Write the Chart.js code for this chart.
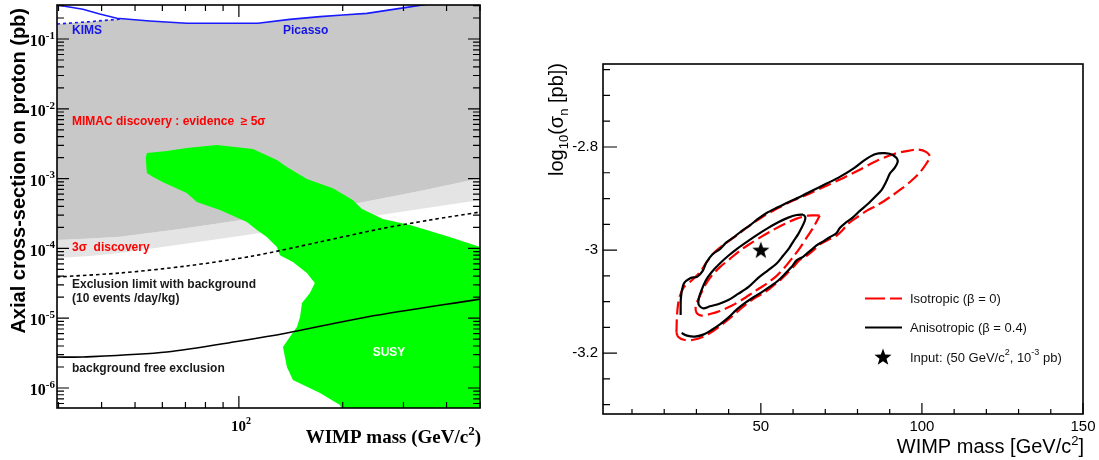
<!DOCTYPE html>
<html><head><meta charset="utf-8">
<script src="https://cdn.jsdelivr.net/npm/chart.js@4.4.1/dist/chart.umd.min.js"></script>
<style>
html,body{margin:0;padding:0;background:#fff;width:1099px;height:460px;overflow:hidden}
#c1{position:absolute;left:0;top:0}
#c2{position:absolute;left:520px;top:0}
</style></head><body>
<canvas id="c1" width="505" height="460"></canvas>
<canvas id="c2" width="579" height="460"></canvas>
<script>
// ================= LEFT PANEL DATA (WIMP mass GeV/c^2, cross-section pb) =================
const sigma3Mass = [29.7, 37, 45.2, 67.5, 100.7, 150, 224, 335, 500];
const sigma3Val  = [7.3e-5, 7.8e-5, 8.6e-5, 1.14e-4, 1.51e-4, 2.03e-4, 2.73e-4, 3.67e-4, 4.93e-4];
const sigma5Mass = [29.7, 37, 45.2, 67.5, 100.7, 150, 224, 335, 500];
const sigma5Val  = [1.32e-4, 1.39e-4, 1.47e-4, 1.90e-4, 2.53e-4, 3.38e-4, 4.52e-4, 6.64e-4, 1.01e-3];
const picassoMass = [29.7, 35.3, 39.5, 44.3, 55.2, 70.6, 113.5, 140.5, 171.9, 200, 235, 293, 341, 420];
const picassoVal  = [0.307, 0.267, 0.228, 0.198, 0.181, 0.168, 0.168, 0.191, 0.209, 0.221, 0.233, 0.275, 0.307, 0.37];
const kimsMass = [29.7, 37.0, 45.2];
const kimsVal  = [0.164, 0.177, 0.193];
const susyMass = [53.7, 54.1, 61.8, 70.6, 86.4, 109.8, 128.9, 137.8, 157.4, 187.2, 213.8, 227.5, 261.4, 313.3, 358, 417, 500, 520, 520,
                  202.7, 196.3, 171.9, 143.4, 137.8, 134.2, 140.5, 147.3, 150.4, 152.4, 160.7, 166, 157.4, 143.4, 131.5, 128.9,
                  120.5, 112.8, 105.5, 88.1, 75.5, 70.6, 60.3, 56.4, 54.1];
const susyVal  = [1.97e-3, 2.33e-3, 2.48e-3, 2.74e-3, 3.03e-3, 2.65e-3, 1.85e-3, 1.47e-3, 9.9e-4, 7.3e-4, 4.93e-4, 3.67e-4, 2.64e-4, 2.16e-4, 1.77e-4, 1.41e-4, 1.05e-4, 1.05e-4, 4e-7,
                  4e-7, 5.7e-7, 8.5e-7, 1.30e-6, 2.0e-6, 3.87e-6, 5.38e-6, 7.5e-6, 1.04e-5, 1.65e-5, 2.30e-5, 3.19e-5, 4.45e-5, 6.4e-5, 8.0e-5, 1.05e-4,
                  1.46e-4, 1.84e-4, 2.39e-4, 3.55e-4, 4.62e-4, 6.2e-4, 8.9e-4, 1.05e-3, 1.20e-3];
const bkgLimitMass = [29.7, 45.2, 70.6, 109.8, 171.9, 256.5, 358, 500];
const bkgLimitVal  = [3.89e-5, 4.44e-5, 5.60e-5, 7.78e-5, 1.24e-4, 1.90e-4, 2.55e-4, 3.32e-4];
const bkgFreeMass = [29.7, 35.3, 61.8, 100.7, 137.8, 235, 500];
const bkgFreeVal  = [2.78e-6, 2.78e-6, 3.28e-6, 4.71e-6, 6.14e-6, 1.04e-5, 1.88e-5];
const leftXTickVals = [30, 40, 50, 60, 70, 80, 90, 100, 200, 300, 400, 500];
const leftXMajor = [100];
const leftYDecades = [1e-6, 1e-5, 1e-4, 1e-3, 1e-2, 1e-1];
const leftYExponents = ['-6', '-5', '-4', '-3', '-2', '-1'];
const leftYMinorMult = [2, 3, 4, 5, 6, 7, 8, 9];

// ================= RIGHT PANEL DATA (WIMP mass, log10 sigma_n) =================
const isoOuterMass = [23.8,24.0,24.6,26.1,28.5,31.1,33.1,35.7,38.8,42.4,46.6,50.7,54.9,60.0,65.2,70.4,75.6,80.7,85.9,91.1,95.2,98.9,101.4,102.5,
  101.4,99.4,96.8,93.7,90.1,86.4,82.8,79.7,77.1,75.4,73.5,70.9,68.3,66.2,64.2,61.9,60.2,58.2,55.9,53.3,50.7,48.1,45.5,43.0,40.4,37.8,35.2,32.1,29.0,26.1,24.3,23.8];
const isoOuterLog = [-3.160,-3.124,-3.095,-3.072,-3.059,-3.043,-3.024,-3.004,-2.988,-2.972,-2.952,-2.935,-2.920,-2.904,-2.890,-2.875,-2.860,-2.844,-2.827,-2.814,-2.808,-2.805,-2.810,-2.819,
  -2.832,-2.849,-2.865,-2.881,-2.897,-2.912,-2.924,-2.937,-2.949,-2.961,-2.972,-2.980,-2.989,-3.001,-3.011,-3.020,-3.032,-3.045,-3.059,-3.072,-3.084,-3.093,-3.105,-3.118,-3.132,-3.145,-3.157,-3.168,-3.174,-3.174,-3.168,-3.160];
const isoInnerMass = [68.3,64.7,61.1,57.5,53.8,50.2,46.6,43.5,40.4,37.3,34.7,32.6,31.1,29.8,30.0,31.6,34.2,37.3,40.9,44.5,48.1,51.8,54.9,57.5,59.8,62.1,64.2,66.2,68.3];
const isoInnerLog = [-2.933,-2.933,-2.939,-2.949,-2.961,-2.974,-2.988,-3.001,-3.017,-3.033,-3.050,-3.069,-3.089,-3.108,-3.121,-3.127,-3.124,-3.118,-3.108,-3.095,-3.080,-3.065,-3.050,-3.033,-3.015,-2.996,-2.976,-2.957,-2.933];
const anisoOuterMass = [25.1,25.2,26.1,28.2,30.2,31.9,33.1,35.0,37.3,39.3,41.4,44.0,46.6,49.2,51.8,54.9,58.5,62.1,66.2,70.4,74.5,78.7,82.3,85.4,88.5,91.1,92.5,
  91.6,90.1,89.0,87.5,85.4,83.3,80.7,78.5,76.1,74.5,73.5,71.4,69.4,67.3,65.2,63.1,61.1,59.5,57.5,55.4,52.8,50.2,47.6,45.0,42.4,39.9,37.3,34.7,32.1,29.5,27.1,25.4];
const anisoOuterLog = [-3.126,-3.092,-3.065,-3.054,-3.052,-3.041,-3.024,-3.008,-2.998,-2.985,-2.976,-2.963,-2.952,-2.939,-2.928,-2.918,-2.907,-2.897,-2.884,-2.871,-2.858,-2.842,-2.825,-2.814,-2.812,-2.816,-2.827,
  -2.840,-2.851,-2.866,-2.883,-2.897,-2.910,-2.924,-2.937,-2.948,-2.957,-2.967,-2.975,-2.983,-2.991,-3.002,-3.013,-3.020,-3.033,-3.046,-3.059,-3.071,-3.082,-3.092,-3.103,-3.116,-3.131,-3.144,-3.155,-3.164,-3.168,-3.166,-3.161];
const anisoInnerMass = [63.1,61.1,58.5,55.4,52.3,49.2,46.1,42.9,39.9,37.1,34.7,32.9,31.7,30.8,30.7,32.1,34.2,36.7,39.9,42.9,46.1,49.2,52.3,54.9,56.9,58.8,60.2,61.6,62.7,63.6,63.8,63.1];
const anisoInnerLog = [-2.931,-2.932,-2.937,-2.946,-2.957,-2.969,-2.982,-2.996,-3.011,-3.027,-3.043,-3.059,-3.076,-3.092,-3.106,-3.113,-3.109,-3.105,-3.097,-3.085,-3.072,-3.054,-3.039,-3.026,-3.011,-2.996,-2.982,-2.969,-2.956,-2.944,-2.936,-2.931];
const inputMass = [50];
const inputLog = [-3];
const rightXTickVals = [10,20,30,40,50,60,70,80,90,100,110,120,130,140,150];
const rightXLabels = [50, 100, 150];
const rightYTickVals = [-3.30,-3.25,-3.20,-3.15,-3.10,-3.05,-3.00,-2.95,-2.90,-2.85,-2.80,-2.75,-2.70,-2.65];
const rightYLabels = [-3.2, -3.0, -2.8];
const rightYLabelText = ['-3.2', '-3', '-2.8'];

// ================= helpers =================
const SANS = '"Liberation Sans", Arial, Helvetica, sans-serif';
const SERIF = '"Liberation Serif", "Times New Roman", serif';
const pts = (xs, ys) => xs.map((x, i) => ({x: x, y: ys[i]}));

function runs(ctx, parts, x, y, align) {
  let w = 0;
  for (const p of parts) { ctx.font = p.f; w += ctx.measureText(p.t).width; }
  let cx = align === 'right' ? x - w : (align === 'center' ? x - w / 2 : x);
  ctx.textAlign = 'left';
  for (const p of parts) { ctx.font = p.f; ctx.fillText(p.t, cx, y + (p.dy || 0)); cx += ctx.measureText(p.t).width; }
}
function drawStar(g, cx, cy, R, r) {
  g.beginPath();
  for (let i = 0; i < 10; i++) {
    const ang = -Math.PI / 2 + i * Math.PI / 5;
    const rad = i % 2 ? r : R;
    g.lineTo(cx + rad * Math.cos(ang), cy + rad * Math.sin(ang));
  }
  g.closePath(); g.fillStyle = '#000'; g.fill();
}
const starImg = (() => {
  const c = document.createElement('canvas'); c.width = 20; c.height = 20;
  drawStar(c.getContext('2d'), 10, 10.6, 9, 3.7); return c;
})();
function drawTicks(chart, cfg) {
  const {ctx, chartArea: a} = chart;
  const xs = chart.scales.x, ys = chart.scales.y;
  ctx.save();
  ctx.strokeStyle = '#000';
  ctx.lineWidth = cfg.tickWidth;
  ctx.beginPath();
  for (const t of cfg.xTicks) {
    const px = xs.getPixelForValue(t.v);
    const len = t.major ? cfg.xMajorLen : cfg.xMinorLen;
    ctx.moveTo(px, a.bottom); ctx.lineTo(px, a.bottom - len);
    if (cfg.mirror) { ctx.moveTo(px, a.top); ctx.lineTo(px, a.top + len); }
  }
  for (const t of cfg.yTicks) {
    const py = ys.getPixelForValue(t.v);
    const len = t.major ? cfg.yMajorLen : cfg.yMinorLen;
    ctx.moveTo(a.left, py); ctx.lineTo(a.left + len, py);
    if (cfg.mirror) { ctx.moveTo(a.right, py); ctx.lineTo(a.right - len, py); }
  }
  ctx.stroke();
  ctx.lineWidth = cfg.frameWidth;
  ctx.strokeRect(a.left, a.top, a.right - a.left, a.bottom - a.top);
  ctx.restore();
}

// ================= LEFT CHART =================
const lightPoly = pts(sigma3Mass, sigma3Val).concat(pts(sigma5Mass, sigma5Val).reverse());
const darkPoly = pts(sigma5Mass, sigma5Val);
darkPoly.push({x: 520, y: 0.6});
for (let i = picassoMass.length - 1; i >= 0; i--) if (picassoMass[i] >= 45) darkPoly.push({x: picassoMass[i], y: picassoVal[i]});
for (let i = kimsMass.length - 1; i >= 0; i--) darkPoly.push({x: kimsMass[i], y: kimsVal[i]});

const leftXTicks = leftXTickVals.map(v => ({v: v, major: leftXMajor.includes(v)}));
const leftYTicks = [];
leftYDecades.forEach(d => {
  leftYTicks.push({v: d, major: true});
  leftYMinorMult.forEach(m => leftYTicks.push({v: d * m, major: false}));
});
leftYTicks.push({v: 6e-7, major: false}, {v: 7e-7, major: false}, {v: 8e-7, major: false}, {v: 9e-7, major: false});

const leftDecor = {
  id: 'leftDecor',
  afterDraw(chart) {
    drawTicks(chart, {xTicks: leftXTicks, yTicks: leftYTicks, mirror: true, tickWidth: 1.2, frameWidth: 1.6,
      xMajorLen: 12, xMinorLen: 6, yMajorLen: 12, yMinorLen: 7});
    const ctx = chart.ctx, xs = chart.scales.x, ys = chart.scales.y;
    ctx.save();
    ctx.fillStyle = '#000';
    ctx.textBaseline = 'middle';
    leftYDecades.forEach((d, i) => {
      const py = ys.getPixelForValue(d);
      runs(ctx, [{t: '10', f: 'bold 16px ' + SERIF}, {t: leftYExponents[i], f: 'bold 11px ' + SERIF, dy: -6}], 55, py + 3, 'right');
    });
    runs(ctx, [{t: '10', f: 'bold 15px ' + SERIF}, {t: '2', f: 'bold 10px ' + SERIF, dy: -6}], xs.getPixelForValue(100) + 2, 427, 'center');
    ctx.textBaseline = 'alphabetic';
    runs(ctx, [{t: 'WIMP mass (GeV/c', f: 'bold 19px ' + SERIF}, {t: '2', f: 'bold 13px ' + SERIF, dy: -8}, {t: ')', f: 'bold 19px ' + SERIF}], 481, 443, 'right');
    // y title
    ctx.save();
    ctx.translate(25, 8); ctx.rotate(-Math.PI / 2);
    ctx.font = 'bold 20px ' + SANS; ctx.textAlign = 'right';
    ctx.fillText('Axial cross-section on proton (pb)', 0, 0);
    ctx.restore();
    // annotations
    ctx.textBaseline = 'middle'; ctx.textAlign = 'left';
    ctx.font = 'bold 12px ' + SANS;
    ctx.fillStyle = '#1414e6';
    ctx.fillText('KIMS', 72, 31);
    ctx.fillText('Picasso', 283, 31);
    ctx.fillStyle = '#ff0000';
    ctx.fillText('MIMAC discovery : evidence  \u2265 5\u03c3', 72, 122);
    ctx.fillText('3\u03c3  discovery', 72, 248);
    ctx.fillStyle = '#1a1a1a';
    ctx.fillText('Exclusion limit with background', 72, 285);
    ctx.fillText('(10 events /day/kg)', 72, 299);
    ctx.fillText('background free exclusion', 72, 369);
    ctx.fillStyle = '#ffffff'; ctx.textAlign = 'center';
    ctx.fillText('SUSY', 389, 353);
    ctx.restore();
  }
};

new Chart(document.getElementById('c1'), {
  type: 'scatter',
  data: {datasets: [
    {label: 'Picasso', data: pts(picassoMass, picassoVal), showLine: true, borderColor: '#1a1aff', borderWidth: 1.6, pointRadius: 0, tension: 0, order: 1},
    {label: 'KIMS', data: pts(kimsMass, kimsVal), showLine: true, borderColor: '#1a1aff', borderWidth: 1.6, borderDash: [3, 3], pointRadius: 0, tension: 0, order: 2},
    {label: 'bkg free', data: pts(bkgFreeMass, bkgFreeVal), showLine: true, borderColor: '#000', borderWidth: 1.6, pointRadius: 0, tension: 0.3, order: 3},
    {label: 'bkg limit', data: pts(bkgLimitMass, bkgLimitVal), showLine: true, borderColor: '#000', borderWidth: 1.6, borderDash: [3.5, 3], pointRadius: 0, tension: 0.3, order: 4},
    {label: 'SUSY', data: pts(susyMass, susyVal), showLine: true, fill: 'shape', backgroundColor: '#00ff00', borderWidth: 0, borderColor: 'rgba(0,0,0,0)', pointRadius: 0, tension: 0, order: 5},
    {label: '5 sigma', data: darkPoly, showLine: true, fill: 'shape', backgroundColor: '#c8c8c8', borderWidth: 0, borderColor: 'rgba(0,0,0,0)', pointRadius: 0, tension: 0, order: 6},
    {label: '3 sigma', data: lightPoly, showLine: true, fill: 'shape', backgroundColor: '#e4e4e4', borderWidth: 0, borderColor: 'rgba(0,0,0,0)', pointRadius: 0, tension: 0, order: 7}
  ]},
  options: {
    responsive: false, animation: false, events: [],
    layout: {padding: {left: 57, top: 5, right: 25, bottom: 52}, autoPadding: false},
    plugins: {legend: {display: false}, tooltip: {enabled: false}},
    scales: {
      x: {type: 'logarithmic', min: 29.7, max: 500, display: false},
      y: {type: 'logarithmic', min: 5.17e-7, max: 0.307, display: false}
    }
  },
  plugins: [leftDecor]
});

// ================= RIGHT CHART =================
const rightXTicks = rightXTickVals.map(v => ({v: v, major: rightXLabels.includes(v)}));
const rightYTicks = rightYTickVals.map(v => ({v: v, major: rightYLabels.some(l => Math.abs(l - v) < 1e-6)}));

const rightDecor = {
  id: 'rightDecor',
  afterDraw(chart) {
    drawTicks(chart, {xTicks: rightXTicks, yTicks: rightYTicks, mirror: false, tickWidth: 1.2, frameWidth: 1.6,
      xMajorLen: 11, xMinorLen: 5, yMajorLen: 14, yMinorLen: 7});
    const ctx = chart.ctx, xs = chart.scales.x, ys = chart.scales.y;
    ctx.save();
    ctx.fillStyle = '#000';
    ctx.font = '15px ' + SANS;
    ctx.textAlign = 'center'; ctx.textBaseline = 'alphabetic';
    rightXLabels.forEach(v => ctx.fillText(String(v), xs.getPixelForValue(v), 431));
    ctx.textAlign = 'right'; ctx.textBaseline = 'middle';
    rightYLabels.forEach((v, i) => ctx.fillText(rightYLabelText[i], 78, ys.getPixelForValue(v)));
    ctx.textBaseline = 'alphabetic';
    runs(ctx, [{t: 'WIMP mass [GeV/c', f: '20px ' + SANS}, {t: '2', f: '13px ' + SANS, dy: -8}, {t: ']', f: '20px ' + SANS}], 564, 453, 'right');
    ctx.save();
    ctx.translate(43, 63); ctx.rotate(-Math.PI / 2);
    runs(ctx, [{t: 'log', f: '20px ' + SANS}, {t: '10', f: '13px ' + SANS, dy: 5}, {t: '(\u03c3', f: '20px ' + SANS},
               {t: 'n', f: '13px ' + SANS, dy: 5}, {t: ' [pb])', f: '20px ' + SANS}], 0, 0, 'right');
    ctx.restore();
    // legend
    ctx.lineWidth = 2.2;
    ctx.strokeStyle = '#ff0000'; ctx.setLineDash([20, 5]);
    ctx.beginPath(); ctx.moveTo(345, 298.5); ctx.lineTo(382, 298.5); ctx.stroke();
    ctx.setLineDash([]); ctx.strokeStyle = '#000';
    ctx.beginPath(); ctx.moveTo(345, 327.5); ctx.lineTo(382, 327.5); ctx.stroke();
    drawStar(ctx, 363, 357.5, 9, 3.7);
    ctx.fillStyle = '#111'; ctx.textBaseline = 'middle';
    ctx.font = '13px ' + SANS; ctx.textAlign = 'left';
    ctx.fillText('Isotropic (\u03b2 = 0)', 390, 299);
    ctx.fillText('Anisotropic (\u03b2 = 0.4)', 390, 328);
    runs(ctx, [{t: 'Input: (50 GeV/c', f: '13px ' + SANS}, {t: '2', f: '9px ' + SANS, dy: -5}, {t: ', 10', f: '13px ' + SANS},
               {t: '-3', f: '9px ' + SANS, dy: -5}, {t: ' pb)', f: '13px ' + SANS}], 390, 358, 'left');
    ctx.restore();
  }
};

new Chart(document.getElementById('c2'), {
  type: 'scatter',
  data: {datasets: [
    {label: 'Input', data: pts(inputMass, inputLog), pointStyle: starImg, pointRadius: 9, order: 0},
    {label: 'Aniso outer', data: pts(anisoOuterMass, anisoOuterLog), showLine: true, borderColor: '#000', borderWidth: 2.2, pointRadius: 0, tension: 0.3, order: 1},
    {label: 'Aniso inner', data: pts(anisoInnerMass, anisoInnerLog), showLine: true, borderColor: '#000', borderWidth: 2.2, pointRadius: 0, tension: 0.3, order: 2},
    {label: 'Iso outer', data: pts(isoOuterMass, isoOuterLog), showLine: true, borderColor: '#ff0000', borderWidth: 2.2, borderDash: [13, 5], pointRadius: 0, tension: 0.3, order: 3},
    {label: 'Iso inner', data: pts(isoInnerMass, isoInnerLog), showLine: true, borderColor: '#ff0000', borderWidth: 2.2, borderDash: [13, 5], pointRadius: 0, tension: 0.3, order: 4}
  ]},
  options: {
    responsive: false, animation: false, events: [],
    layout: {padding: {left: 83, top: 64, right: 16, bottom: 46}, autoPadding: false},
    plugins: {legend: {display: false}, tooltip: {enabled: false}},
    scales: {
      x: {type: 'linear', min: 1, max: 150, display: false},
      y: {type: 'linear', min: -3.318, max: -2.639, display: false}
    }
  },
  plugins: [rightDecor]
});
</script>
</body></html>
